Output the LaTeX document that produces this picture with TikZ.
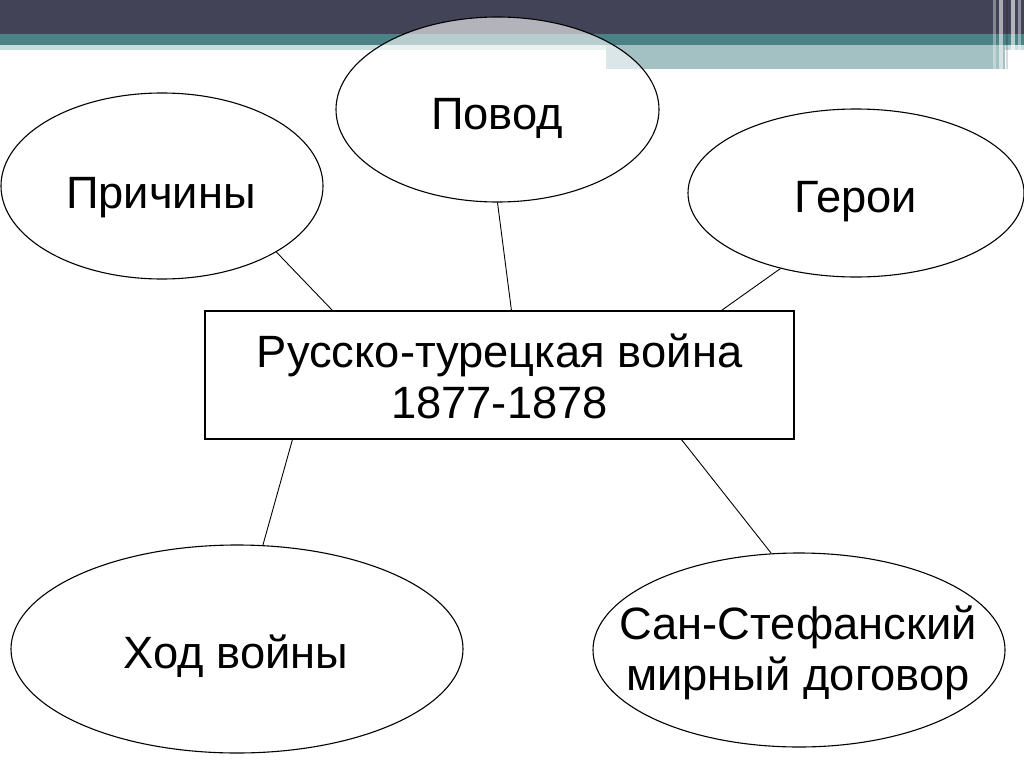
\documentclass[tikz,border=0pt]{standalone}
\usepackage{fontspec}
\setmainfont{Liberation Sans}
\usetikzlibrary{shapes.geometric}
\definecolor{bandDark}{HTML}{434358}
\definecolor{bandTeal}{HTML}{4B8286}
\definecolor{bandLight}{HTML}{CADDDD}
\definecolor{bandBlock}{HTML}{A3C1C3}
\tikzset{
  ell/.style={ellipse, draw=black, line width=1.1pt, fill=white, inner sep=0pt},
  lbl/.style={font=\fontsize{45.3}{51}\selectfont, align=center, inner sep=0pt},
  box/.style={rectangle, draw=black, line width=1.1pt, fill=white, inner sep=0pt,
              minimum width=589pt, minimum height=128pt},
  conn/.style={draw=black, line width=0.9pt}
}
\begin{document}
\begin{tikzpicture}[x=1pt,y=-1pt]
\useasboundingbox (0,0) rectangle (1024,768);
\fill[white] (0,0) rectangle (1024,768);
% banner
\fill[bandDark] (0,0) rectangle (1024,34);
\fill[bandTeal] (0,34) rectangle (1024,45);
\fill[bandLight] (0,45) rectangle (1024,50);
\fill[bandBlock] (606,45) rectangle (1005,69);
\fill[white,opacity=0.35] (993,0) rectangle (996,69);
\fill[white,opacity=0.55] (999,0) rectangle (1003,69);
\fill[black,opacity=0.15] (1006,0) rectangle (1008,69);
\fill[white,opacity=0.6] (1011,0) rectangle (1015,69);
\fill[white,opacity=0.4] (1018,0) rectangle (1021,69);
% central box
\node[box] (war) at (499.5,375) {};
\node[lbl] (warT) at (499.5,376) {Русско-турецкая война\\1877-1878};
% ellipses
\node[ell, minimum width=322pt, minimum height=186pt] (prich) at (162,186) {};
\node[ell, minimum width=323pt, minimum height=185pt, fill opacity=0.6] (povod) at (497.5,109.5) {};
\node[ell, minimum width=336pt, minimum height=168pt] (geroi) at (856,193) {};
\node[ell, minimum width=452pt, minimum height=208pt] (khod) at (237,649) {};
\node[ell, minimum width=412pt, minimum height=194pt] (san) at (799,650) {};
% labels
\node[lbl, anchor=base] (prichT) at (161,208) {Причины};
\node[lbl, anchor=base] (povodT) at (497,129) {Повод};
\node[lbl, anchor=base] (geroiT) at (856,212) {Герои};
\node[lbl, anchor=base] (khodT) at (236,668) {Ход войны};
\node[lbl] (sanT) at (798,653) {Сан-Стефанский\\мирный договор};
% connectors
\draw[conn] (prich.-30.5) -- ([xshift=128pt]war.north west);
\draw[conn] (povod.-90) -- ([xshift=307pt]war.north west);
\draw[conn] (geroi.-135.7) -- ([xshift=517pt]war.north west);
\draw[conn] (khod.76.5) -- ([xshift=88pt]war.south west);
\draw[conn] (san.106.1) -- ([xshift=477pt]war.south west);
\end{tikzpicture}
\end{document}
